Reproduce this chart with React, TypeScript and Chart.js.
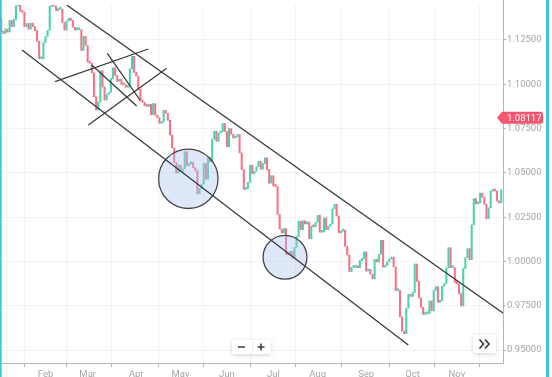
import { useEffect, useRef } from "react";
import { Chart, registerables } from "chart.js";
Chart.register(...registerables);

// Daily closes, first trading day of January to end of November (bar index 0..237)
const closes = [
  // Jan
  1.1299, 1.1287, 1.1312, 1.1295, 1.1360, 1.1326, 1.1366, 1.1442, 1.1454, 1.1413,
  1.1406, 1.1325, 1.1343, 1.1311, 1.1345, 1.1325, 1.1302, 1.1243, 1.1144, 1.1144, 1.1235,
  // Feb
  1.1270, 1.1304, 1.1440, 1.1454, 1.1441, 1.1416, 1.1424, 1.1425, 1.1349, 1.1306,
  1.1357, 1.1373, 1.1361, 1.1322, 1.1307, 1.1308, 1.1308, 1.1191, 1.1271, 1.1219,
  // Mar
  1.1125, 1.1119, 1.1065, 1.0930, 1.0855, 1.0900, 1.1077, 1.0985, 1.0911, 1.0943,
  1.0955, 1.1033, 1.1093, 1.1050, 1.1016, 1.1028, 1.0999, 1.0997, 1.0983, 1.0984,
  1.1087, 1.1158, 1.1067,
  // Apr
  1.1046, 1.0971, 1.0905, 1.0899, 1.0879, 1.0875, 1.0887, 1.0829, 1.0891, 1.0826,
  1.0811, 1.0780, 1.0787, 1.0853, 1.0836, 1.0797, 1.0713, 1.0641, 1.0558, 1.0498, 1.0544,
  // May
  1.0507, 1.0524, 1.0620, 1.0541, 1.0551, 1.0559, 1.0529, 1.0513, 1.0381, 1.0411,
  1.0437, 1.0553, 1.0465, 1.0586, 1.0563, 1.0691, 1.0735, 1.0678, 1.0726, 1.0733,
  1.0779, 1.0734,
  // Jun
  1.0648, 1.0750, 1.0718, 1.0697, 1.0703, 1.0717, 1.0613, 1.0518, 1.0407, 1.0413,
  1.0447, 1.0543, 1.0496, 1.0510, 1.0535, 1.0566, 1.0521, 1.0553, 1.0585, 1.0519,
  1.0442, 1.0484,
  // Jul
  1.0427, 1.0423, 1.0265, 1.0183, 1.0160, 1.0186, 1.0040, 1.0037, 1.0058, 1.0020,
  1.0080, 1.0142, 1.0227, 1.0180, 1.0230, 1.0212, 1.0223, 1.0129, 1.0199, 1.0196, 1.0220,
  // Aug
  1.0261, 1.0165, 1.0167, 1.0245, 1.0180, 1.0198, 1.0211, 1.0297, 1.0323, 1.0257,
  1.0161, 1.0171, 1.0178, 1.0086, 1.0037, 0.9943, 0.9966, 0.9967, 0.9973, 0.9965,
  1.0005, 1.0017, 1.0055,
  // Sep
  0.9946, 0.9955, 0.9928, 0.9902, 1.0012, 0.9997, 1.0041, 1.0120, 0.9968, 0.9978,
  0.9999, 1.0014, 1.0025, 0.9970, 0.9836, 0.9837, 0.9688, 0.9607, 0.9593, 0.9736,
  0.9815, 0.9802,
  // Oct
  0.9825, 0.9986, 0.9887, 0.9794, 0.9742, 0.9701, 0.9705, 0.9706, 0.9778, 0.9721,
  0.9837, 0.9858, 0.9770, 0.9778, 0.9861, 0.9876, 0.9964, 1.0078, 0.9965, 0.9965, 0.9881,
  // Nov
  0.9875, 0.9819, 0.9749, 0.9960, 1.0021, 1.0073, 1.0010, 1.0207, 1.0355, 1.0325,
  1.0331, 1.0386, 1.0362, 1.0323, 1.0242, 1.0303, 1.0396, 1.0408, 1.0398, 1.0342,
  1.0331, 1.0405,
];
const firstOpen = 1.137;

const monthLabels = ["Feb", "Mar", "Apr", "May", "Jun", "Jul", "Aug", "Sep", "Oct", "Nov"];
const monthStarts = [21, 41, 64, 85, 107, 129, 150, 173, 195, 216];
const priceTicks = [0.95, 0.975, 1.0, 1.025, 1.05, 1.075, 1.1, 1.125];
const lastPrice = 1.08117;

// drawn trend lines: [startIndex, startPrice, endIndex, endPrice]
const trendLines = [
  [31.05, 1.14475, 237.98, 0.97078],
  [9.87, 1.11936, 192.96, 0.95289],
  [25.51, 1.10147, 69.73, 1.11992],
  [41.29, 1.07703, 78.45, 1.10903],
  [42.9, 1.11089, 64.23, 1.08776],
  [50.3, 1.1175, 65.79, 1.09114],
];
// highlighted zones: [centerIndex, centerPrice, radiusInPrice]
const circles = [
  [88.69, 1.04667, 0.01676],
  [134.52, 1.00243, 0.01236],
];

const UP = "#4ad3ab";
const DOWN = "#f8718a";
const FONT = "Roboto";

function roundRect(ctx: CanvasRenderingContext2D, x: number, y: number, w: number, h: number, r: number) {
  ctx.beginPath();
  ctx.moveTo(x + r, y);
  ctx.lineTo(x + w - r, y);
  ctx.quadraticCurveTo(x + w, y, x + w, y + r);
  ctx.lineTo(x + w, y + h - r);
  ctx.quadraticCurveTo(x + w, y + h, x + w - r, y + h);
  ctx.lineTo(x + r, y + h);
  ctx.quadraticCurveTo(x, y + h, x, y + h - r);
  ctx.lineTo(x, y + r);
  ctx.quadraticCurveTo(x, y, x + r, y);
  ctx.closePath();
}

const overlay = {
  id: "overlay",
  afterDatasetsDraw(chart: any) {
    const { ctx, chartArea: a, scales } = chart;
    const x = scales.x, y = scales.y;
    ctx.save();
    ctx.beginPath();
    ctx.rect(a.left, a.top, a.right - a.left, a.bottom - a.top);
    ctx.clip();
    circles.forEach(([ci, cp, cr]) => {
      const cx = x.getPixelForValue(ci);
      const cy = y.getPixelForValue(cp);
      const r = Math.abs(y.getPixelForValue(cp + cr) - cy);
      ctx.beginPath();
      ctx.arc(cx, cy, r, 0, Math.PI * 2);
      ctx.fillStyle = "rgba(170,195,240,0.38)";
      ctx.fill();
      ctx.lineWidth = 1.3;
      ctx.strokeStyle = "#464646";
      ctx.stroke();
    });
    ctx.strokeStyle = "#3a3a3a";
    ctx.lineWidth = 1.3;
    trendLines.forEach(([i1, p1, i2, p2]) => {
      ctx.beginPath();
      ctx.moveTo(x.getPixelForValue(i1), y.getPixelForValue(p1));
      ctx.lineTo(x.getPixelForValue(i2), y.getPixelForValue(p2));
      ctx.stroke();
    });
    ctx.restore();
  },
  afterDraw(chart: any) {
    const { ctx, chartArea: a, scales } = chart;
    const y = scales.y;
    ctx.save();
    // axis line continues above plot
    ctx.strokeStyle = "#b5b5b5";
    ctx.lineWidth = 1;
    ctx.beginPath();
    ctx.moveTo(a.right + 0.5, 0);
    ctx.lineTo(a.right + 0.5, a.top);
    ctx.stroke();

    // last price label
    const py = y.getPixelForValue(lastPrice);
    ctx.fillStyle = "#f5566e";
    ctx.beginPath();
    ctx.moveTo(a.right - 6, py);
    ctx.lineTo(a.right - 1, py - 6);
    ctx.lineTo(a.right + 38, py - 6);
    ctx.quadraticCurveTo(a.right + 40, py - 6, a.right + 40, py - 4);
    ctx.lineTo(a.right + 40, py + 4);
    ctx.quadraticCurveTo(a.right + 40, py + 6, a.right + 38, py + 6);
    ctx.lineTo(a.right - 1, py + 6);
    ctx.closePath();
    ctx.fill();
    ctx.fillStyle = "#ffffff";
    ctx.font = `9.5px ${FONT}`;
    ctx.textBaseline = "middle";
    ctx.textAlign = "left";
    ctx.fillText(lastPrice.toFixed(5), a.right + 4, py + 0.5);

    // zoom buttons
    ctx.shadowColor = "rgba(0,0,0,0.18)";
    ctx.shadowBlur = 4;
    ctx.shadowOffsetY = 1;
    ctx.fillStyle = "#ffffff";
    roundRect(ctx, 232, 340, 39, 14, 2);
    ctx.fill();
    roundRect(ctx, 473, 335, 23, 18, 2);
    ctx.fill();
    ctx.shadowColor = "transparent";
    ctx.strokeStyle = "#ececec";
    ctx.beginPath();
    ctx.moveTo(252.5, 341);
    ctx.lineTo(252.5, 353);
    ctx.stroke();
    ctx.strokeStyle = "#3a3a3a";
    ctx.lineWidth = 1.6;
    ctx.beginPath();
    ctx.moveTo(238, 347);
    ctx.lineTo(245, 347);
    ctx.moveTo(257.5, 347);
    ctx.lineTo(264.5, 347);
    ctx.moveTo(261, 343.5);
    ctx.lineTo(261, 350.5);
    ctx.stroke();
    ctx.lineWidth = 1.7;
    ctx.beginPath();
    ctx.moveTo(479.5, 339.5);
    ctx.lineTo(483.5, 344);
    ctx.lineTo(479.5, 348.5);
    ctx.moveTo(485, 339.5);
    ctx.lineTo(489, 344);
    ctx.lineTo(485, 348.5);
    ctx.stroke();

    // frame borders
    ctx.fillStyle = "#3fc6d8";
    ctx.fillRect(0, 0, 1.7, chart.height);
    ctx.fillRect(546, 0, 3, chart.height);
    ctx.restore();
  },
};

export default function App() {
  const ref = useRef<HTMLCanvasElement>(null);
  useEffect(() => {
    document.body.style.margin = "0";
    const opens = closes.map((c, i) => (i === 0 ? firstOpen : closes[i - 1]));
    const bars = closes.map((c, i) => ({ x: i, y: [opens[i], c] }));
    const colors = closes.map((c, i) => (c >= opens[i] ? UP : DOWN));
    Chart.defaults.font.family = FONT;
    const chart = new Chart(ref.current!, {
      type: "bar",
      data: {
        datasets: [
          {
            data: bars as any,
            backgroundColor: colors,
            borderWidth: 0,
            barThickness: 1.4,
            minBarLength: 2,
          },
        ],
      },
      plugins: [overlay],
      options: {
        responsive: false,
        animation: false,
        devicePixelRatio: 1,
        events: [],
        layout: { padding: { top: 5, left: 0, right: 0, bottom: 0 } },
        plugins: { legend: { display: false }, tooltip: { enabled: false } },
        scales: {
          x: {
            type: "linear",
            min: -0.56,
            max: 237.84,
            offset: false,
            afterBuildTicks: (s: any) => {
              s.ticks = monthStarts.map((v) => ({ value: v }));
            },
            afterFit: (s: any) => {
              s.height = 14;
              s.paddingLeft = 0;
              s.paddingRight = 0;
            },
            ticks: {
              autoSkip: false,
              maxRotation: 0,
              padding: 2,
              color: "#a6a6a6",
              font: { size: 9.5 },
              callback: (v: any) => {
                const k = monthStarts.indexOf(Number(v));
                return k >= 0 ? monthLabels[k] : "";
              },
            },
            grid: { color: "#f3f3f3", tickColor: "#b5b5b5", tickLength: 4 },
            border: { color: "#b5b5b5" },
          },
          y: {
            position: "right",
            min: 0.94272,
            max: 1.14475,
            afterBuildTicks: (s: any) => {
              s.ticks = priceTicks.map((v) => ({ value: v }));
            },
            afterFit: (s: any) => {
              s.width = 49;
              s.paddingTop = 0;
              s.paddingBottom = 0;
            },
            ticks: {
              padding: 1,
              color: "#a6a6a6",
              font: { size: 9.5 },
              callback: (v: any) => Number(v).toFixed(5),
            },
            grid: { color: "#f3f3f3", tickColor: "#b5b5b5", tickLength: 3 },
            border: { color: "#b5b5b5" },
          },
        },
      },
    });
    return () => chart.destroy();
  }, []);
  return (
    <div style={{ width: 552, height: 377 }}>
      <canvas ref={ref} width={552} height={377} style={{ display: "block" }} />
    </div>
  );
}
